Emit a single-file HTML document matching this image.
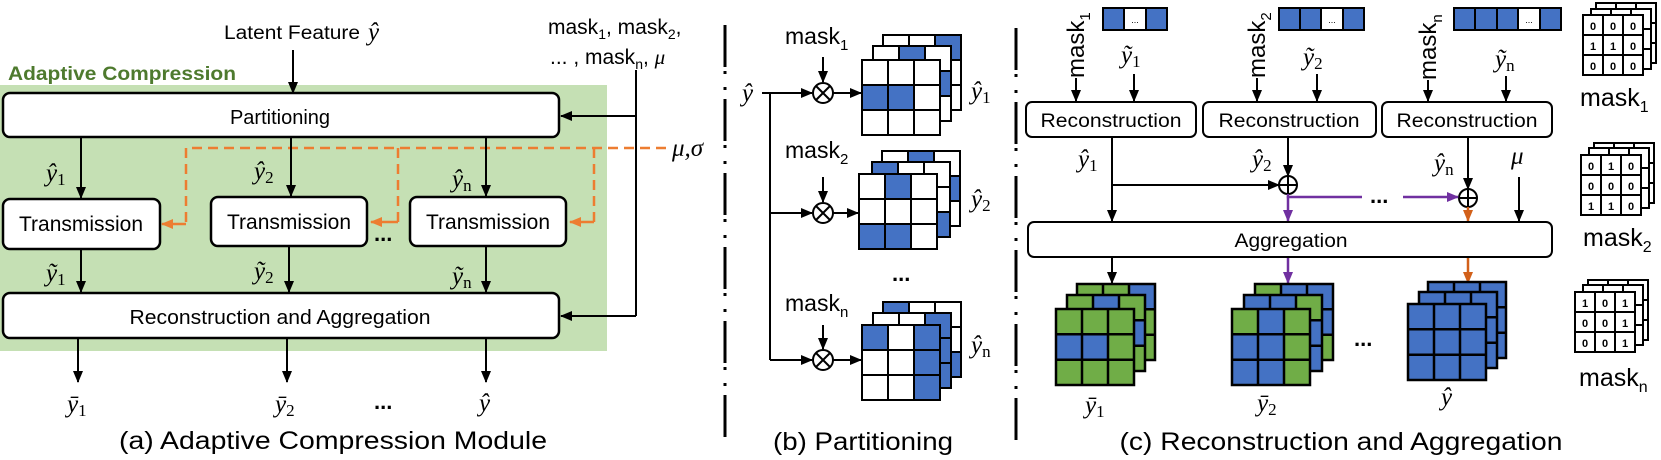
<!DOCTYPE html>
<html><head><meta charset="utf-8"><style>
html,body{margin:0;padding:0;background:#fff}
svg{display:block}
text{font-family:"Liberation Sans",sans-serif;fill:#000}
.m{font-family:"Liberation Serif",serif;font-style:italic;font-size:25px}
.s{font-family:"Liberation Serif",serif;font-style:normal;font-size:17px}
.n{font-family:"Liberation Sans",sans-serif;font-size:11px;font-weight:bold}
</style></head><body>
<svg width="1661" height="460" viewBox="0 0 1661 460" xmlns="http://www.w3.org/2000/svg">
<defs>
<marker id="ak" markerWidth="12" markerHeight="10" refX="11" refY="5" orient="auto" markerUnits="userSpaceOnUse"><path d="M0,0 L12,5 L0,10z" fill="#000"/></marker>
<marker id="ao" markerWidth="12" markerHeight="10" refX="11" refY="5" orient="auto" markerUnits="userSpaceOnUse"><path d="M0,0 L12,5 L0,10z" fill="#ed7d31"/></marker>
<marker id="ap" markerWidth="12" markerHeight="10" refX="11" refY="5" orient="auto" markerUnits="userSpaceOnUse"><path d="M0,0 L12,5 L0,10z" fill="#7030a0"/></marker>
<marker id="ar" markerWidth="12" markerHeight="10" refX="11" refY="5" orient="auto" markerUnits="userSpaceOnUse"><path d="M0,0 L12,5 L0,10z" fill="#d2601a"/></marker>
<g id="gb"><rect x="0" y="0" width="78" height="75" fill="none" stroke="#000" stroke-width="2"/><path d="M26,0V75M52,0V75M0,25H78M0,50H78" stroke="#000" stroke-width="2"/></g>
<g id="gc"><rect x="0" y="0" width="78" height="76" fill="none" stroke="#000" stroke-width="2.5"/><path d="M26,0V76M52,0V76M0,25.3H78M0,50.7H78" stroke="#000" stroke-width="2.5"/></g>
<g id="gm"><rect x="0" y="0" width="60" height="60" fill="#fff" stroke="#000" stroke-width="2"/><path d="M20,0V60M40,0V60M0,20H60M0,40H60" stroke="#000" stroke-width="2"/></g>
</defs>

<!-- ========== Panel (a) ========== -->
<rect x="0" y="85" width="607" height="266" fill="#c5e0b4"/>
<text x="8" y="80" font-size="19" font-weight="bold" style="fill:#4e7a2e" textLength="228" lengthAdjust="spacingAndGlyphs">Adaptive Compression</text>
<text x="224" y="39" font-size="19" textLength="136" lengthAdjust="spacingAndGlyphs">Latent Feature</text>
<text x="368" y="40" class="m">ŷ</text>
<line x1="293" y1="50" x2="293" y2="93" stroke="#000" stroke-width="2" marker-end="url(#ak)"/>
<text x="548" y="34" font-size="21">mask<tspan font-size="14" dy="5">1</tspan><tspan dy="-5">, mask</tspan><tspan font-size="14" dy="5">2</tspan><tspan dy="-5">,</tspan></text>
<text x="550" y="64" font-size="21">... , mask<tspan font-size="14" dy="5">n</tspan><tspan dy="-5">, </tspan><tspan font-family="Liberation Serif" font-style="italic">μ</tspan></text>

<rect x="3" y="93" width="556" height="44" rx="7" fill="#fff" stroke="#000" stroke-width="2.5"/>
<text x="280" y="124" font-size="20" text-anchor="middle">Partitioning</text>

<path d="M636,70 V316" stroke="#000" stroke-width="2" fill="none"/>
<line x1="636" y1="116" x2="561" y2="116" stroke="#000" stroke-width="2" marker-end="url(#ak)"/>
<line x1="636" y1="316" x2="561" y2="316" stroke="#000" stroke-width="2" marker-end="url(#ak)"/>

<g stroke="#ed7d31" stroke-width="2.5" fill="none" stroke-dasharray="10,6">
<path d="M666,148 H186 V224"/>
<path d="M398,148 V222"/>
<path d="M594,148 V222"/>
</g>
<g stroke="#ed7d31" stroke-width="2.5" fill="none">
<line x1="186" y1="224" x2="162" y2="224" marker-end="url(#ao)"/>
<line x1="398" y1="222" x2="371" y2="222" marker-end="url(#ao)"/>
<line x1="594" y1="222" x2="570" y2="222" marker-end="url(#ao)"/>
</g>
<text x="672" y="156" class="m" font-size="22">μ,σ</text>

<g stroke="#000" stroke-width="2">
<line x1="81" y1="137" x2="81" y2="198" marker-end="url(#ak)"/>
<line x1="291" y1="137" x2="291" y2="196" marker-end="url(#ak)"/>
<line x1="486" y1="137" x2="486" y2="196" marker-end="url(#ak)"/>
<line x1="81" y1="249" x2="81" y2="292" marker-end="url(#ak)"/>
<line x1="289" y1="246" x2="289" y2="292" marker-end="url(#ak)"/>
<line x1="486" y1="246" x2="486" y2="292" marker-end="url(#ak)"/>
<line x1="78" y1="338" x2="78" y2="382" marker-end="url(#ak)"/>
<line x1="287" y1="338" x2="287" y2="382" marker-end="url(#ak)"/>
<line x1="486" y1="338" x2="486" y2="382" marker-end="url(#ak)"/>
</g>
<text x="46" y="181" class="m">ŷ<tspan class="s" dy="4">1</tspan></text>
<text x="254" y="179" class="m">ŷ<tspan class="s" dy="4">2</tspan></text>
<text x="452" y="187" class="m">ŷ<tspan class="s" dy="4">n</tspan></text>
<text x="46" y="281" class="m">ỹ<tspan class="s" dy="4">1</tspan></text>
<text x="254" y="279" class="m">ỹ<tspan class="s" dy="4">2</tspan></text>
<text x="452" y="284" class="m">ỹ<tspan class="s" dy="4">n</tspan></text>

<rect x="3" y="199" width="157" height="50" rx="7" fill="#fff" stroke="#000" stroke-width="2.5"/>
<text x="81" y="231" font-size="21" text-anchor="middle" textLength="124" lengthAdjust="spacingAndGlyphs">Transmission</text>
<rect x="211" y="197" width="156" height="49" rx="7" fill="#fff" stroke="#000" stroke-width="2.5"/>
<text x="289" y="229" font-size="21" text-anchor="middle" textLength="124" lengthAdjust="spacingAndGlyphs">Transmission</text>
<rect x="410" y="197" width="156" height="49" rx="7" fill="#fff" stroke="#000" stroke-width="2.5"/>
<text x="488" y="229" font-size="21" text-anchor="middle" textLength="124" lengthAdjust="spacingAndGlyphs">Transmission</text>
<text x="374" y="241" font-size="22" font-weight="bold">...</text>

<rect x="3" y="293" width="556" height="45" rx="7" fill="#fff" stroke="#000" stroke-width="2.5"/>
<text x="280" y="324" font-size="20" text-anchor="middle" textLength="301" lengthAdjust="spacingAndGlyphs">Reconstruction and Aggregation</text>

<text x="67" y="412" class="m">ȳ<tspan class="s" dy="4">1</tspan></text>
<text x="275" y="412" class="m">ȳ<tspan class="s" dy="4">2</tspan></text>
<text x="374" y="409" font-size="22" font-weight="bold">...</text>
<text x="479" y="411" class="m">ŷ</text>
<text x="333" y="449" font-size="25" text-anchor="middle" textLength="428" lengthAdjust="spacingAndGlyphs">(a) Adaptive Compression Module</text>

<line x1="725" y1="25" x2="725" y2="440" stroke="#000" stroke-width="3" stroke-dasharray="42,4,3,13,3,9"/>
<line x1="1016" y1="28" x2="1016" y2="440" stroke="#000" stroke-width="3" stroke-dasharray="42,4,3,13,3,9"/>

<!-- ========== Panel (b) ========== -->
<text x="742" y="101" class="m">ŷ</text>
<g stroke="#000" stroke-width="2" fill="none">
<path d="M762,93 H770 V360"/>
<line x1="770" y1="93" x2="812" y2="93" marker-end="url(#ak)"/>
<line x1="770" y1="213" x2="812" y2="213" marker-end="url(#ak)"/>
<line x1="770" y1="360" x2="812" y2="360" marker-end="url(#ak)"/>
<line x1="823" y1="57" x2="823" y2="82" marker-end="url(#ak)"/>
<line x1="823" y1="177" x2="823" y2="202" marker-end="url(#ak)"/>
<line x1="823" y1="325" x2="823" y2="349" marker-end="url(#ak)"/>
<line x1="833" y1="93" x2="861" y2="93" marker-end="url(#ak)"/>
<line x1="833" y1="213" x2="858" y2="213" marker-end="url(#ak)"/>
<line x1="833" y1="360" x2="861" y2="360" marker-end="url(#ak)"/>
<circle cx="823" cy="93" r="10" fill="#fff"/><path d="M816,86 L830,100 M830,86 L816,100"/>
<circle cx="823" cy="213" r="10" fill="#fff"/><path d="M816,206 L830,220 M830,206 L816,220"/>
<circle cx="823" cy="360" r="10" fill="#fff"/><path d="M816,353 L830,367 M830,353 L816,367"/>
</g>
<text x="785" y="44" font-size="23">mask<tspan font-size="15" dy="6">1</tspan></text>
<text x="785" y="158" font-size="23">mask<tspan font-size="15" dy="6">2</tspan></text>
<text x="785" y="311" font-size="23">mask<tspan font-size="15" dy="6">n</tspan></text>

<rect x="883" y="35" width="78" height="75" fill="#fff"/><rect x="935" y="35" width="26" height="25" fill="#4472c4"/><use href="#gb" x="883" y="35"/>
<rect x="873" y="46" width="78" height="75" fill="#fff"/><rect x="899" y="46" width="26" height="25" fill="#4472c4"/><rect x="925" y="71" width="26" height="25" fill="#4472c4"/><use href="#gb" x="873" y="46"/>
<rect x="862" y="60" width="78" height="75" fill="#fff"/><rect x="862" y="85" width="52" height="25" fill="#4472c4"/><use href="#gb" x="862" y="60"/>
<rect x="882" y="151" width="78" height="75" fill="#fff"/><rect x="908" y="151" width="26" height="25" fill="#4472c4"/><rect x="934" y="176" width="26" height="25" fill="#4472c4"/><use href="#gb" x="882" y="151"/>
<rect x="872" y="162" width="78" height="75" fill="#fff"/><rect x="872" y="162" width="26" height="25" fill="#4472c4"/><rect x="924" y="212" width="26" height="25" fill="#4472c4"/><use href="#gb" x="872" y="162"/>
<rect x="859" y="174" width="78" height="75" fill="#fff"/><rect x="885" y="174" width="26" height="25" fill="#4472c4"/><rect x="859" y="224" width="52" height="25" fill="#4472c4"/><use href="#gb" x="859" y="174"/>
<rect x="883" y="302" width="78" height="75" fill="#fff"/><rect x="883" y="302" width="26" height="25" fill="#4472c4"/><rect x="935" y="352" width="26" height="25" fill="#4472c4"/><use href="#gb" x="883" y="302"/>
<rect x="873" y="313" width="78" height="75" fill="#fff"/><rect x="925" y="313" width="26" height="75" fill="#4472c4"/><use href="#gb" x="873" y="313"/>
<rect x="862" y="325" width="78" height="75" fill="#fff"/><rect x="862" y="325" width="26" height="25" fill="#4472c4"/><rect x="914" y="325" width="26" height="75" fill="#4472c4"/><use href="#gb" x="862" y="325"/>
<text x="892" y="281" font-size="22" font-weight="bold">...</text>
<text x="971" y="99" class="m">ŷ<tspan class="s" dy="4">1</tspan></text>
<text x="971" y="207" class="m">ŷ<tspan class="s" dy="4">2</tspan></text>
<text x="971" y="353" class="m">ŷ<tspan class="s" dy="4">n</tspan></text>
<text x="863" y="450" font-size="25" text-anchor="middle" textLength="180" lengthAdjust="spacingAndGlyphs">(b) Partitioning</text>

<!-- ========== Panel (c) ========== -->
<g stroke="#000" stroke-width="2">
<rect x="1103" y="8" width="64" height="22" fill="#4472c4"/><rect x="1124" y="8" width="22" height="22" fill="#fff"/>
<rect x="1279" y="8" width="85" height="22" fill="#4472c4"/><line x1="1300" y1="8" x2="1300" y2="30"/><rect x="1321" y="8" width="22" height="22" fill="#fff"/>
<rect x="1454" y="8" width="107" height="22" fill="#4472c4"/><line x1="1475" y1="8" x2="1475" y2="30"/><line x1="1497" y1="8" x2="1497" y2="30"/><rect x="1518" y="8" width="22" height="22" fill="#fff"/>
</g>
<text x="1135" y="23" font-size="9" text-anchor="middle">...</text>
<text x="1332" y="23" font-size="9" text-anchor="middle">...</text>
<text x="1529" y="23" font-size="9" text-anchor="middle">...</text>

<text transform="translate(1084,78) rotate(-90)" font-size="24">mask<tspan font-size="15" dy="6">1</tspan></text>
<text transform="translate(1265,78) rotate(-90)" font-size="24">mask<tspan font-size="15" dy="6">2</tspan></text>
<text transform="translate(1436,80) rotate(-90)" font-size="24">mask<tspan font-size="15" dy="6">n</tspan></text>
<text x="1121" y="63" class="m">ỹ<tspan class="s" dy="4">1</tspan></text>
<text x="1303" y="65" class="m">ỹ<tspan class="s" dy="4">2</tspan></text>
<text x="1495" y="67" class="m">ỹ<tspan class="s" dy="4">n</tspan></text>
<g stroke="#000" stroke-width="2">
<line x1="1076" y1="78" x2="1076" y2="101" marker-end="url(#ak)"/>
<line x1="1257" y1="78" x2="1257" y2="101" marker-end="url(#ak)"/>
<line x1="1428" y1="80" x2="1428" y2="101" marker-end="url(#ak)"/>
<line x1="1134" y1="74" x2="1134" y2="101" marker-end="url(#ak)"/>
<line x1="1317" y1="74" x2="1317" y2="101" marker-end="url(#ak)"/>
<line x1="1506" y1="76" x2="1506" y2="101" marker-end="url(#ak)"/>
</g>
<rect x="1026" y="102" width="170" height="35" rx="6" fill="#fff" stroke="#000" stroke-width="2"/>
<rect x="1203" y="102" width="173" height="35" rx="6" fill="#fff" stroke="#000" stroke-width="2"/>
<rect x="1382" y="102" width="170" height="35" rx="6" fill="#fff" stroke="#000" stroke-width="2"/>
<text x="1111" y="127" font-size="19" text-anchor="middle" textLength="141" lengthAdjust="spacingAndGlyphs">Reconstruction</text>
<text x="1289" y="127" font-size="19" text-anchor="middle" textLength="141" lengthAdjust="spacingAndGlyphs">Reconstruction</text>
<text x="1467" y="127" font-size="19" text-anchor="middle" textLength="141" lengthAdjust="spacingAndGlyphs">Reconstruction</text>

<text x="1078" y="167" class="m">ŷ<tspan class="s" dy="4">1</tspan></text>
<text x="1252" y="167" class="m">ŷ<tspan class="s" dy="4">2</tspan></text>
<text x="1434" y="171" class="m">ŷ<tspan class="s" dy="4">n</tspan></text>
<text x="1511" y="164" class="m">μ</text>
<g stroke="#000" stroke-width="2" fill="none">
<line x1="1112" y1="137" x2="1112" y2="221" marker-end="url(#ak)"/>
<line x1="1112" y1="185" x2="1279" y2="185" marker-end="url(#ak)"/>
<line x1="1288" y1="137" x2="1288" y2="176" marker-end="url(#ak)"/>
<line x1="1468" y1="137" x2="1468" y2="189" marker-end="url(#ak)"/>
<line x1="1519" y1="177" x2="1519" y2="221" marker-end="url(#ak)"/>
<circle cx="1288" cy="185" r="9" fill="#fff"/><path d="M1279,185H1297M1288,176V194"/>
<circle cx="1468" cy="198" r="9" fill="#fff"/><path d="M1459,198H1477M1468,189V207"/>
</g>
<g stroke="#7030a0" stroke-width="2.5" fill="none">
<path d="M1288,194 V197 H1362"/>
<line x1="1288" y1="196" x2="1288" y2="221" marker-end="url(#ap)"/>
<line x1="1403" y1="197" x2="1458" y2="197" marker-end="url(#ap)"/>
<line x1="1288" y1="257" x2="1288" y2="283" marker-end="url(#ap)"/>
</g>
<text x="1370" y="203" font-size="22" font-weight="bold">...</text>
<g stroke="#d2601a" stroke-width="2.5">
<line x1="1468" y1="207" x2="1468" y2="221" marker-end="url(#ar)"/>
<line x1="1468" y1="257" x2="1468" y2="283" marker-end="url(#ar)"/>
</g>
<line x1="1112" y1="257" x2="1112" y2="283" stroke="#000" stroke-width="2" marker-end="url(#ak)"/>
<rect x="1028" y="222" width="524" height="35" rx="6" fill="#fff" stroke="#000" stroke-width="2"/>
<text x="1291" y="247" font-size="19" text-anchor="middle" textLength="113" lengthAdjust="spacingAndGlyphs">Aggregation</text>

<rect x="1077" y="284" width="78" height="76" fill="#70ad47"/><rect x="1129" y="284" width="26" height="25.3" fill="#4472c4"/><use href="#gc" x="1077" y="284"/>
<rect x="1067" y="295" width="78" height="76" fill="#70ad47"/><rect x="1093" y="295" width="26" height="25.3" fill="#4472c4"/><rect x="1119" y="320.3" width="26" height="25.3" fill="#4472c4"/><use href="#gc" x="1067" y="295"/>
<rect x="1056" y="309" width="78" height="76" fill="#70ad47"/><rect x="1056" y="334.3" width="52" height="25.3" fill="#4472c4"/><use href="#gc" x="1056" y="309"/>
<rect x="1255" y="284" width="78" height="76" fill="#70ad47"/><rect x="1281" y="284" width="52" height="25.3" fill="#4472c4"/><rect x="1307" y="309.3" width="26" height="25.3" fill="#4472c4"/><use href="#gc" x="1255" y="284"/>
<rect x="1244" y="295" width="78" height="76" fill="#4472c4"/><rect x="1296" y="295" width="26" height="25.3" fill="#70ad47"/><use href="#gc" x="1244" y="295"/>
<rect x="1232" y="309" width="78" height="76" fill="#4472c4"/><rect x="1232" y="309" width="26" height="25.3" fill="#70ad47"/><rect x="1284" y="309" width="26" height="76" fill="#70ad47"/><use href="#gc" x="1232" y="309"/>
<rect x="1428" y="282" width="78" height="76" fill="#4472c4"/><use href="#gc" x="1428" y="282"/>
<rect x="1419" y="292" width="78" height="76" fill="#4472c4"/><use href="#gc" x="1419" y="292"/>
<rect x="1408" y="304" width="78" height="76" fill="#4472c4"/><use href="#gc" x="1408" y="304"/>

<text x="1354" y="346" font-size="22" font-weight="bold">...</text>
<text x="1085" y="413" class="m">ȳ<tspan class="s" dy="4">1</tspan></text>
<text x="1257" y="411" class="m">ȳ<tspan class="s" dy="4">2</tspan></text>
<text x="1441" y="405" class="m">ŷ</text>
<text x="1341" y="450" font-size="25" text-anchor="middle" textLength="443" lengthAdjust="spacingAndGlyphs">(c) Reconstruction and Aggregation</text>

<use href="#gm" x="1596" y="3"/><use href="#gm" x="1591" y="9"/><use href="#gm" x="1583" y="15"/>
<text x="1593" y="30" class="n" text-anchor="middle">0</text><text x="1613" y="30" class="n" text-anchor="middle">0</text><text x="1633" y="30" class="n" text-anchor="middle">0</text>
<text x="1593" y="50" class="n" text-anchor="middle">1</text><text x="1613" y="50" class="n" text-anchor="middle">1</text><text x="1633" y="50" class="n" text-anchor="middle">0</text>
<text x="1593" y="70" class="n" text-anchor="middle">0</text><text x="1613" y="70" class="n" text-anchor="middle">0</text><text x="1633" y="70" class="n" text-anchor="middle">0</text>
<text x="1580" y="106" font-size="25">mask<tspan font-size="16" dy="6">1</tspan></text>

<use href="#gm" x="1594" y="143"/><use href="#gm" x="1589" y="148"/><use href="#gm" x="1581" y="155"/>
<text x="1591" y="170" class="n" text-anchor="middle">0</text><text x="1611" y="170" class="n" text-anchor="middle">1</text><text x="1631" y="170" class="n" text-anchor="middle">0</text>
<text x="1591" y="190" class="n" text-anchor="middle">0</text><text x="1611" y="190" class="n" text-anchor="middle">0</text><text x="1631" y="190" class="n" text-anchor="middle">0</text>
<text x="1591" y="210" class="n" text-anchor="middle">1</text><text x="1611" y="210" class="n" text-anchor="middle">1</text><text x="1631" y="210" class="n" text-anchor="middle">0</text>
<text x="1583" y="246" font-size="25">mask<tspan font-size="16" dy="6">2</tspan></text>

<use href="#gm" x="1588" y="280"/><use href="#gm" x="1583" y="285"/><use href="#gm" x="1575" y="292"/>
<text x="1585" y="307" class="n" text-anchor="middle">1</text><text x="1605" y="307" class="n" text-anchor="middle">0</text><text x="1625" y="307" class="n" text-anchor="middle">1</text>
<text x="1585" y="327" class="n" text-anchor="middle">0</text><text x="1605" y="327" class="n" text-anchor="middle">0</text><text x="1625" y="327" class="n" text-anchor="middle">1</text>
<text x="1585" y="347" class="n" text-anchor="middle">0</text><text x="1605" y="347" class="n" text-anchor="middle">0</text><text x="1625" y="347" class="n" text-anchor="middle">1</text>
<text x="1579" y="386" font-size="25">mask<tspan font-size="16" dy="6">n</tspan></text>
</svg>
</body></html>
